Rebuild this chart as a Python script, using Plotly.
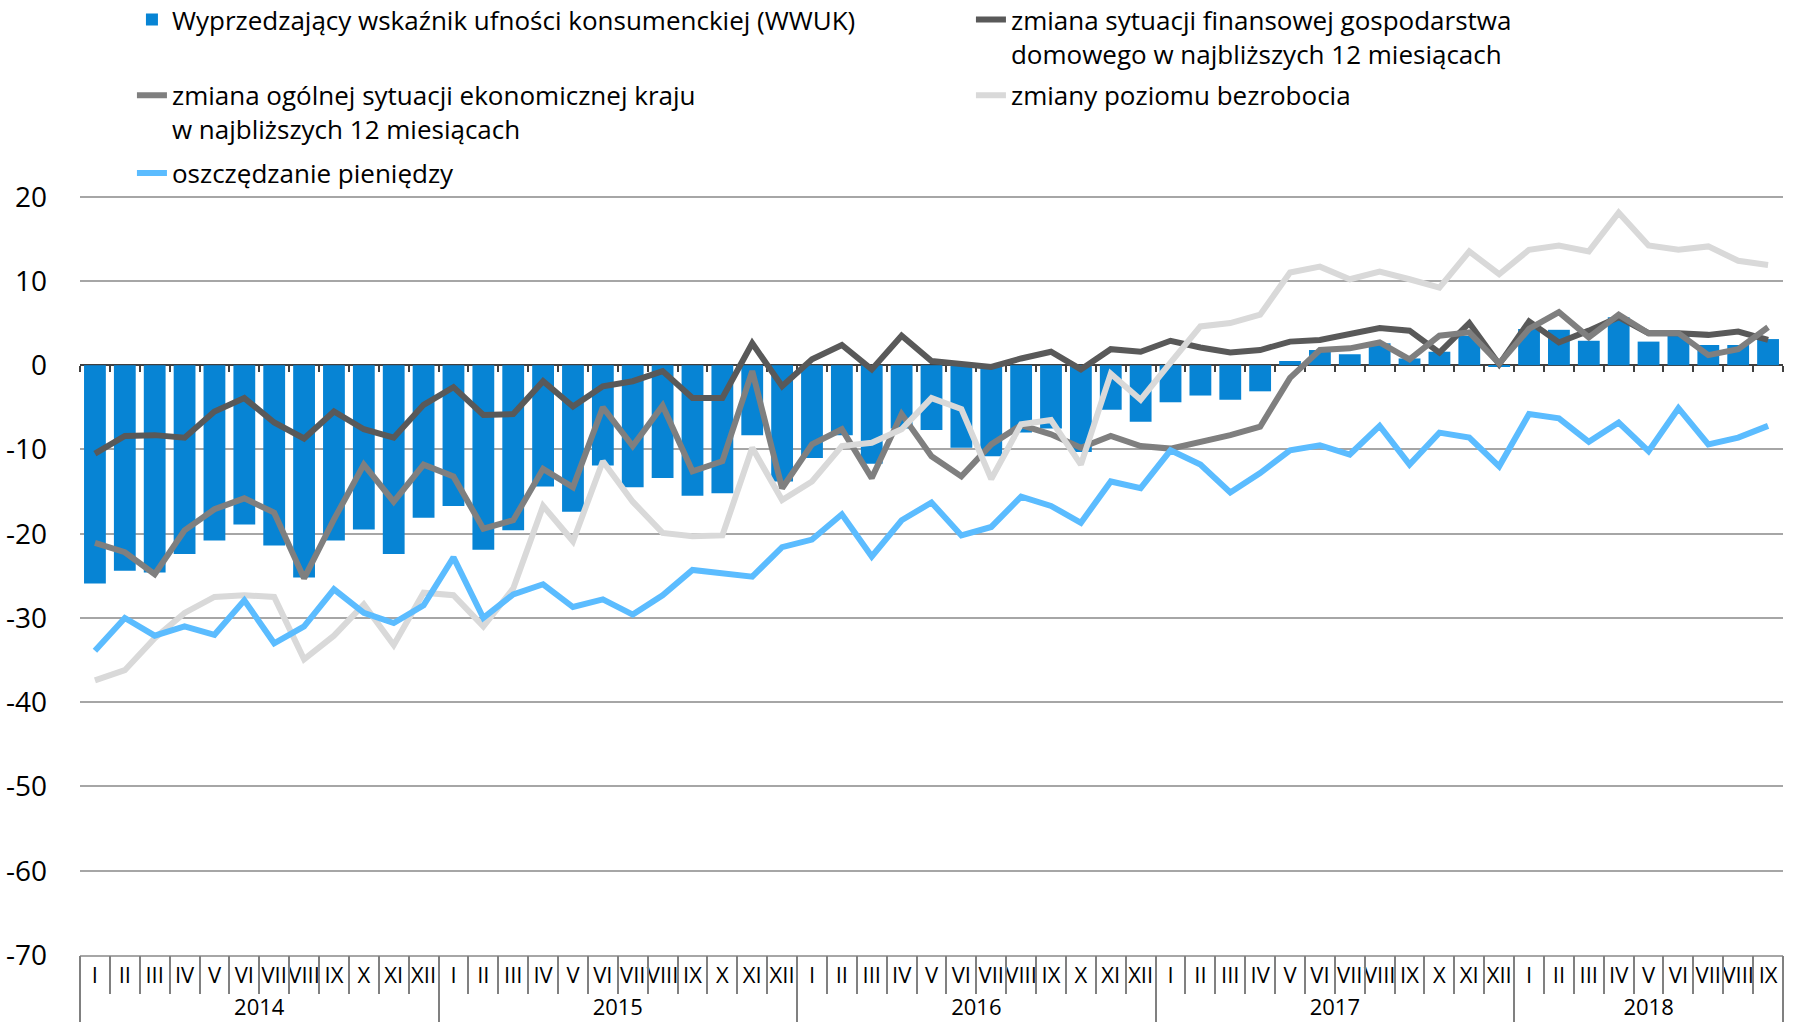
import plotly.graph_objects as go

months_roman = ["I", "II", "III", "IV", "V", "VI", "VII", "VIII", "IX", "X", "XI", "XII"]
years = ["2014", "2015", "2016", "2017", "2018"]
months_per_year = [12, 12, 12, 12, 9]

year_cat = []
month_cat = []
for y, n in zip(years, months_per_year):
    for m in months_roman[:n]:
        year_cat.append(y)
        month_cat.append(m)

# Wyprzedzający wskaźnik ufności konsumenckiej (WWUK)
wwuk = [-25.9, -24.4, -24.6, -22.4, -20.8, -18.9, -21.4, -25.2, -20.8, -19.5, -22.4, -18.1,
        -16.7, -21.9, -19.6, -14.4, -17.4, -11.9, -14.5, -13.4, -15.5, -15.2, -8.3, -13.8,
        -11.0, -8.3, -11.7, -7.5, -7.7, -9.8, -10.8, -8.0, -7.5, -10.3, -5.3, -6.7,
        -4.4, -3.6, -4.1, -3.1, 0.5, 1.8, 1.3, 2.6, 0.8, 1.6, 3.5, -0.2,
        4.3, 4.2, 2.9, 5.7, 2.8, 3.5, 2.4, 2.4, 3.1]
# zmiana sytuacji finansowej gospodarstwa domowego
finanse = [-10.5, -8.4, -8.3, -8.6, -5.5, -3.9, -6.8, -8.7, -5.5, -7.6, -8.6, -4.7,
           -2.6, -5.9, -5.8, -1.9, -4.9, -2.5, -1.9, -0.7, -3.9, -3.9, 2.6, -2.5,
           0.7, 2.4, -0.5, 3.5, 0.5, 0.2, -0.2, 0.8, 1.6, -0.5, 1.9, 1.6,
           2.9, 2.1, 1.5, 1.8, 2.8, 3.0, 3.7, 4.4, 4.1, 1.5, 5.0, 0.1,
           5.2, 2.7, 4.1, 5.7, 3.8, 3.8, 3.6, 4.0, 3.0]
# zmiana ogólnej sytuacji ekonomicznej kraju
kraj = [-21.1, -22.2, -24.8, -19.6, -17.1, -15.8, -17.5, -25.3, -18.3, -11.8, -16.2, -11.8,
        -13.2, -19.4, -18.4, -12.3, -14.5, -5.0, -9.6, -4.8, -12.6, -11.4, -0.7, -14.6,
        -9.4, -7.6, -13.4, -5.8, -10.8, -13.2, -9.4, -7.1, -8.2, -9.8, -8.4, -9.6,
        -9.9, -9.1, -8.3, -7.3, -1.5, 1.8, 2.0, 2.7, 0.7, 3.5, 3.9, 0.2,
        4.3, 6.3, 3.3, 6.0, 3.8, 3.8, 1.2, 1.9, 4.5]
# zmiany poziomu bezrobocia
bezrobocie = [-37.4, -36.2, -32.4, -29.4, -27.5, -27.3, -27.5, -34.9, -32.1, -28.4, -33.2, -27.0,
              -27.3, -31.0, -26.5, -16.7, -20.9, -11.4, -16.2, -19.9, -20.3, -20.2, -9.8, -16.0,
              -13.8, -9.6, -9.2, -7.6, -3.9, -5.2, -13.5, -7.0, -6.5, -11.8, -1.0, -4.1,
              0.3, 4.6, 5.0, 6.0, 11.0, 11.7, 10.2, 11.1, 10.2, 9.2, 13.5, 10.8,
              13.7, 14.2, 13.5, 18.1, 14.2, 13.7, 14.1, 12.4, 11.9]
# oszczędzanie pieniędzy
oszczedzanie = [-33.9, -30.0, -32.1, -31.0, -32.0, -27.9, -33.0, -31.0, -26.6, -29.4, -30.6, -28.5,
                -22.8, -30.0, -27.2, -26.0, -28.7, -27.8, -29.6, -27.3, -24.3, -24.7, -25.1, -21.6,
                -20.7, -17.7, -22.7, -18.4, -16.3, -20.2, -19.2, -15.6, -16.7, -18.7, -13.8, -14.6,
                -10.1, -11.8, -15.1, -12.8, -10.1, -9.5, -10.6, -7.2, -11.8, -8.0, -8.6, -12.0,
                -5.8, -6.3, -9.1, -6.8, -10.2, -5.1, -9.4, -8.6, -7.2]

names = [
    "Wyprzedzający wskaźnik ufności konsumenckiej (WWUK)",
    "zmiana sytuacji finansowej gospodarstwa<br>domowego w najbliższych 12 miesiącach",
    "zmiana ogólnej sytuacji ekonomicznej kraju<br>w najbliższych 12 miesiącach",
    "zmiany poziomu bezrobocia",
    "oszczędzanie pieniędzy",
]
legend_rows = ["legend", "legend", "legend2", "legend2", "legend3"]
line_colors = ["#595959", "#7f7f7f", "#d9d9d9", "#5bbcff"]
bar_color = "#0784d4"

# layout geometry (pixels)
W, H_FIG = 1794, 1024
M_L, M_R, M_B = 80, 11, 69
y_min, y_max_tick = -70, 20
y_top_pad = 0.2  # small headroom so the top gridline is drawn
y_max = y_max_tick + y_top_pad
px_per_unit = (H_FIG - 197 - M_B) / (y_max_tick - y_min)
M_T = 197 - y_top_pad * px_per_unit
plot_h = H_FIG - M_T - M_B
plot_w = W - M_L - M_R


def ypaper(top_px):
    return (H_FIG - M_B - top_px) / plot_h


y_ticks = list(range(y_min, y_max_tick + 1, 10))
n = len(month_cat)
boundaries = [i - 0.5 for i in range(n + 1)]
x = [year_cat, month_cat]

fig = go.Figure()
fig.add_trace(go.Bar(x=x, y=wwuk, name=names[0], marker_color=bar_color,
                     marker_line_width=0, legend=legend_rows[0]))
for name, series, col, lg in zip(names[1:], [finanse, kraj, bezrobocie, oszczedzanie],
                                 line_colors, legend_rows[1:]):
    fig.add_trace(go.Scatter(x=x, y=series, name=name, mode="lines",
                             line=dict(color=col, width=6), legend=lg))

# helper traces so overlay axes are drawn
fig.add_trace(go.Scatter(x=[None], y=[None], xaxis="x2", showlegend=False, hoverinfo="skip"))
fig.add_trace(go.Scatter(x=[None], y=[None], xaxis="x3", showlegend=False, hoverinfo="skip"))

font_family = "Open Sans"
narrow_font = "Liberation Sans Narrow, Open Sans"
legend_x = 0.0305
legend_common = dict(
    orientation="h", x=legend_x, xanchor="left", yanchor="top",
    font=dict(size=26, family=font_family, color="#000000"),
    entrywidthmode="pixels", entrywidth=794,
    valign="top", traceorder="normal",
    bgcolor="rgba(0,0,0,0)",
)

fig.update_layout(
    width=W, height=H_FIG,
    margin=dict(l=M_L, r=M_R, t=M_T, b=M_B, autoexpand=False),
    paper_bgcolor="white", plot_bgcolor="white",
    font=dict(family=font_family, color="#000000"),
    bargap=0.27,
    showlegend=True,
    legend=dict(y=ypaper(-3.4), **legend_common),
    legend2=dict(y=ypaper(72.1), **legend_common),
    legend3=dict(y=ypaper(149.9), **legend_common),
    xaxis=dict(
        type="multicategory", showdividers=True, dividercolor="#808080", dividerwidth=1.5,
        ticks="", showline=True, linecolor="#a6a6a6", linewidth=1.5, tickangle=0,
        tickfont=dict(size=22, family=narrow_font, color="#000000"),
        showgrid=False, zeroline=False,
    ),
    xaxis2=dict(
        overlaying="x", anchor="free", position=(0 - y_min) / (y_max - y_min),
        range=[-0.5, n - 0.5], tickvals=boundaries, ticks="outside", ticklen=6,
        tickcolor="#404040", tickwidth=1.5, showline=True, linecolor="#404040", linewidth=1.5,
        showticklabels=False, showgrid=False, zeroline=False, layer="below traces",
    ),
    xaxis3=dict(
        overlaying="x", anchor="y", side="bottom",
        range=[-0.5, n - 0.5], tickvals=boundaries, ticks="outside", ticklen=38,
        tickcolor="#808080", tickwidth=1.5, showline=False,
        showticklabels=False, showgrid=False, zeroline=False,
    ),
    yaxis=dict(
        range=[y_min, y_max], tickvals=y_ticks, ticktext=[str(v) for v in y_ticks],
        showgrid=True, gridcolor="#a6a6a6", gridwidth=1.5,
        zeroline=False, showline=False, ticks="",
        tickfont=dict(size=28, family=font_family, color="#000000"),
        ticklabelstandoff=32,
    ),
)

fig.write_html("out.html", config={"displayModeBar": False},
               post_script="document.body.style.margin='0px';")
